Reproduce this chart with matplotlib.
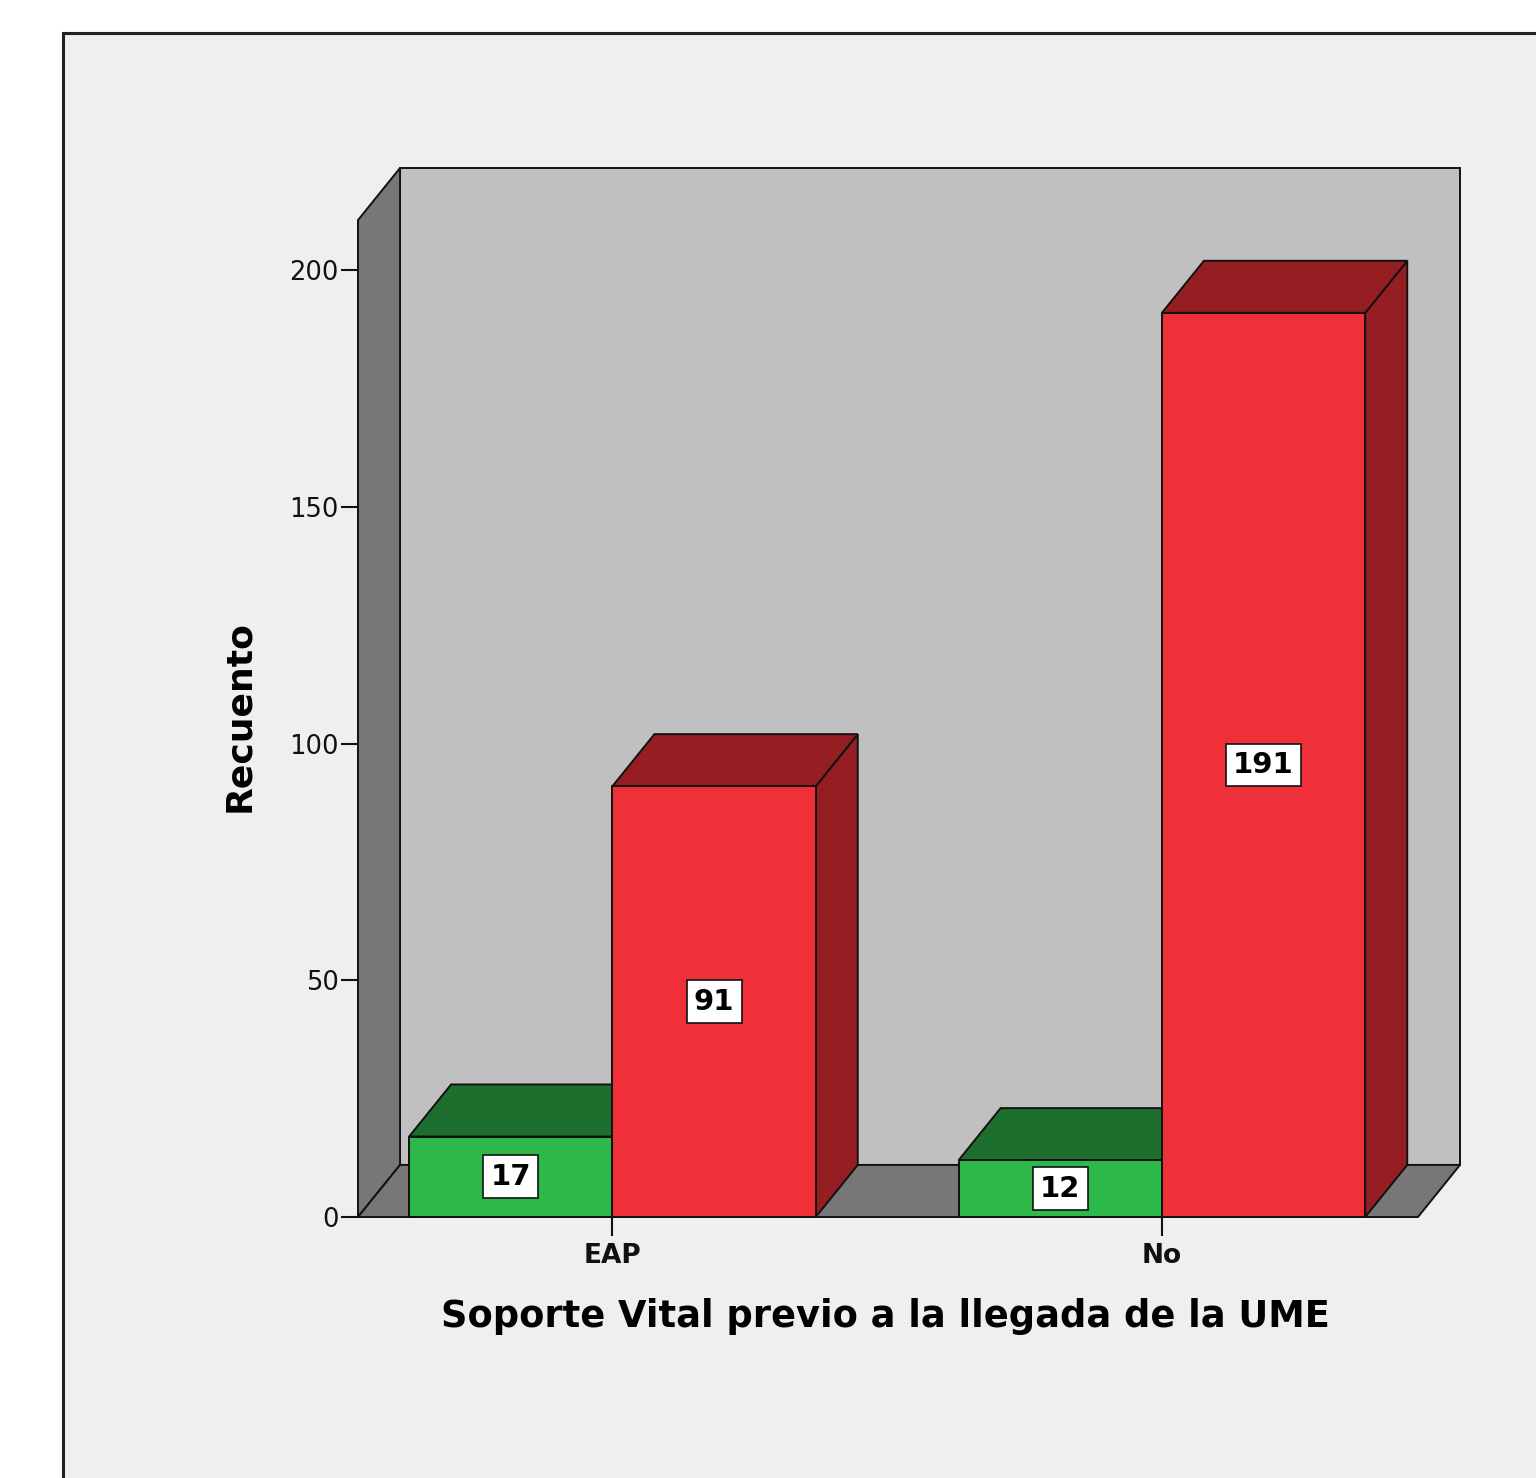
import matplotlib
matplotlib.use("Agg")
import matplotlib.pyplot as plt
from matplotlib.patches import Polygon, Rectangle

# data
categories = ["EAP", "No"]
green_counts = [17, 12]
red_counts = [91, 191]
yticks = [0, 50, 100, 150, 200]

x_title = "Soporte Vital previo a la llegada de la UME"
y_title = "Recuento"

# 3d look (data units)
BAR_W = 0.37
DX, DY = 0.0765, 11.0
X_LEFT, X_RIGHT = -0.463, 1.466
WALL_H = 210.6

GREEN, GREEN_DARK = "#2db84a", "#1e6e2e"
RED, RED_DARK = "#ef3038", "#951e22"
WALL_BACK, WALL_SIDE = "#c0c0c0", "#777777"
EDGE = "#111111"
LW = 1.4


def poly(ax, pts, fc, z=1):
    ax.add_patch(Polygon(pts, closed=True, facecolor=fc, edgecolor=EDGE,
                         linewidth=LW, joinstyle="miter", clip_on=False, zorder=z))


def bar3d(ax, x0, x1, h, front, dark, z):
    poly(ax, [(x1, 0), (x1 + DX, DY), (x1 + DX, h + DY), (x1, h)], dark, z)
    poly(ax, [(x0, h), (x0 + DX, h + DY), (x1 + DX, h + DY), (x1, h)], dark, z)
    poly(ax, [(x0, 0), (x1, 0), (x1, h), (x0, h)], front, z)


fig = plt.figure(figsize=(15.36, 14.78), dpi=100, facecolor="white")
fig.patches.append(Rectangle((63 / 1536, -0.1), 1.2, 1.1 - 33 / 1478,
                             transform=fig.transFigure, facecolor="#efefef",
                             edgecolor="#222222", linewidth=2.2, zorder=-10))

ax = fig.add_axes([358 / 1536, (1478 - 1217) / 1478, 1102 / 1536, 1049 / 1478])
ax.set_zorder(1)
ax.set_facecolor("none")
ax.set_xlim(X_LEFT, X_RIGHT + DX)
ax.set_ylim(0, WALL_H + DY)
for s in ax.spines.values():
    s.set_visible(False)

# walls and floor
poly(ax, [(X_LEFT + DX, DY), (X_RIGHT + DX, DY), (X_RIGHT + DX, WALL_H + DY),
          (X_LEFT + DX, WALL_H + DY)], WALL_BACK)
poly(ax, [(X_LEFT, 0), (X_LEFT + DX, DY), (X_LEFT + DX, WALL_H + DY),
          (X_LEFT, WALL_H)], WALL_SIDE)
poly(ax, [(X_LEFT, 0), (X_LEFT + DX, DY), (X_RIGHT + DX, DY), (X_RIGHT, 0)], WALL_SIDE)

for i, (g, r) in enumerate(zip(green_counts, red_counts)):
    bar3d(ax, i - BAR_W, i, g, GREEN, GREEN_DARK, 3 + 2 * i)
    bar3d(ax, i, i + BAR_W, r, RED, RED_DARK, 4 + 2 * i)
    for xc, v in [(i - BAR_W / 2, g), (i + BAR_W / 2, r)]:
        ax.text(xc, v / 2, str(v), ha="center", va="center", fontsize=21,
                fontweight="bold", zorder=10,
                bbox=dict(boxstyle="square,pad=0.25", facecolor="white",
                          edgecolor=EDGE, linewidth=1.2))

ax.set_yticks(yticks)
ax.set_yticklabels([str(t) for t in yticks], fontsize=18.5)
ax.tick_params(axis="y", direction="out", length=12, width=1.5, pad=2, colors="#111111")
ax.set_xticks(range(len(categories)))
ax.set_xticklabels(categories, fontsize=19, fontweight="bold")
ax.tick_params(axis="x", direction="out", length=14, width=1.5, pad=5, colors="#111111")

ax.set_xlabel(x_title, fontsize=26.5, fontweight="bold")
ax.xaxis.set_label_coords(0.479, -0.077)
ax.set_ylabel(y_title, fontsize=26, fontweight="bold")
ax.yaxis.set_label_coords(-0.092, 0.478)

fig.savefig("out.png", dpi=100, facecolor="white")
